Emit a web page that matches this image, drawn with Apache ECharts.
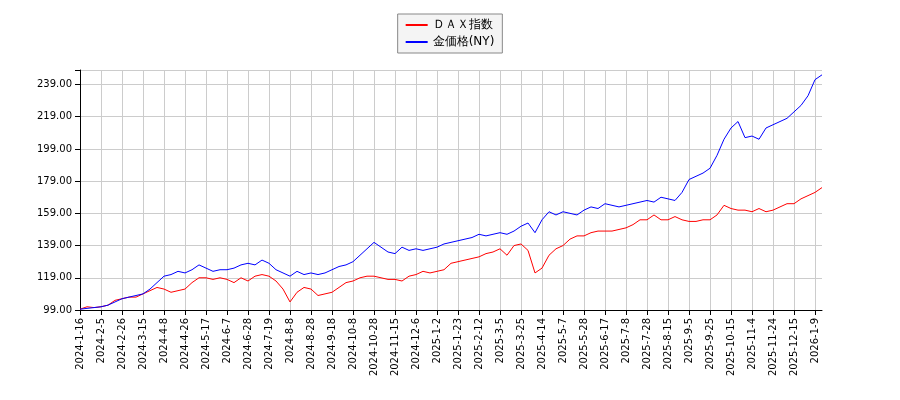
<!DOCTYPE html>
<html>
<head>
<meta charset="utf-8">
<script src="https://cdn.jsdelivr.net/npm/echarts@6/dist/echarts.min.js"></script>
<style>html,body{margin:0;background:#fff}#chart{width:900px;height:400px}</style>
</head>
<body>
<div id="chart"></div>
<script>
// tick dates shown on the x axis; two weekly samples sit between each pair
const tickDates = ["2024-1-16","2024-2-5","2024-2-26","2024-3-15","2024-4-8","2024-4-26","2024-5-17","2024-6-7","2024-6-28","2024-7-19","2024-8-8","2024-8-28","2024-9-18","2024-10-8","2024-10-28","2024-11-15","2024-12-6","2025-1-2","2025-1-23","2025-2-12","2025-3-5","2025-3-25","2025-4-14","2025-5-7","2025-5-28","2025-6-17","2025-7-8","2025-7-28","2025-8-15","2025-9-5","2025-9-25","2025-10-15","2025-11-4","2025-11-24","2025-12-15","2026-1-9"]
const lastDate = "2026-1-16"

const daxValues = [
  99.5,101,100.5, 101,102,105, 106,107,107, 109,111,113, 112,110,111,
  112,116,119, 119,118,119, 118,116,119, 117,120,121, 120,117,112,
  104,110,113, 112,108,109, 110,113,116, 117,119,120, 120,119,118,
  118,117,120, 121,123,122, 123,124,128, 129,130,131, 132,134,135,
  137,133,139, 140,136,122, 125,133,137, 139,143,145, 145,147,148,
  148,148,149, 150,152,155, 155,158,155, 155,157,155, 154,154,155,
  155,158,164, 162,161,161, 160,162,160, 161,163,165, 165,168,170,
  172,175
]
const goldValues = [
  99.5,100,100.5, 101,102,104, 106,107,108, 109,112,116, 120,121,123,
  122,124,127, 125,123,124, 124,125,127, 128,127,130, 128,124,122,
  120,123,121, 122,121,122, 124,126,127, 129,133,137, 141,138,135,
  134,138,136, 137,136,137, 138,140,141, 142,143,144, 146,145,146,
  147,146,148, 151,153,147, 155,160,158, 160,159,158, 161,163,162,
  165,164,163, 164,165,166, 167,166,169, 168,167,172, 180,182,184,
  187,195,205, 212,216,206, 207,205,212, 214,216,218, 222,226,232,
  242,245
]

function parse(s) { const [y, m, d] = s.split("-").map(Number); return new Date(y, m - 1, d) }
function fmt(dt) { return dt.getFullYear() + "-" + (dt.getMonth() + 1) + "-" + dt.getDate() }

const categories = []
tickDates.forEach((d, i) => {
  categories.push(d)
  if (i < tickDates.length - 1) {
    const a = parse(d).getTime(), b = parse(tickDates[i + 1]).getTime()
    categories.push(fmt(new Date(a + (b - a) / 3)))
    categories.push(fmt(new Date(a + 2 * (b - a) / 3)))
  }
})
categories.push(lastDate)

const chart = echarts.init(document.getElementById("chart"))
chart.setOption({
  animation: false,
  backgroundColor: "#fff",
  textStyle: { fontFamily: "DejaVu Sans" },
  legend: {
    top: 14,
    left: "center",
    orient: "vertical",
    backgroundColor: "#f4f4f4",
    borderColor: "#888",
    borderWidth: 1,
    borderRadius: 0,
    padding: [5, 8],
    itemGap: 5,
    itemWidth: 22,
    itemHeight: 2,
    icon: "rect",
    textStyle: { fontSize: 12, color: "#000" },
    data: ["ＤＡＸ指数", "金価格(NY)"]
  },
  grid: { left: 80, right: 78, top: 70, bottom: 90 },
  xAxis: {
    type: "category",
    data: categories,
    boundaryGap: false,
    axisLine: { lineStyle: { color: "#000" } },
    axisTick: { interval: 2, lineStyle: { color: "#000" } },
    axisLabel: { interval: 2, rotate: 90, fontSize: 10, color: "#000" },
    splitLine: { show: true, interval: 2, lineStyle: { color: "#ccc" } }
  },
  yAxis: {
    type: "value",
    min: 99,
    max: 248,
    interval: 20,
    axisLine: { show: true, lineStyle: { color: "#000" } },
    axisTick: { show: true, lineStyle: { color: "#000" } },
    axisLabel: { fontSize: 10, color: "#000", formatter: v => v > 245 ? "" : v.toFixed(2) },
    splitLine: { lineStyle: { color: "#ccc" } }
  },
  series: [
    { name: "ＤＡＸ指数", type: "line", data: daxValues, showSymbol: false, lineStyle: { color: "red", width: 1 }, itemStyle: { color: "red" } },
    { name: "金価格(NY)", type: "line", data: goldValues, showSymbol: false, lineStyle: { color: "blue", width: 1 }, itemStyle: { color: "blue" } }
  ]
})
</script>
</body>
</html>
